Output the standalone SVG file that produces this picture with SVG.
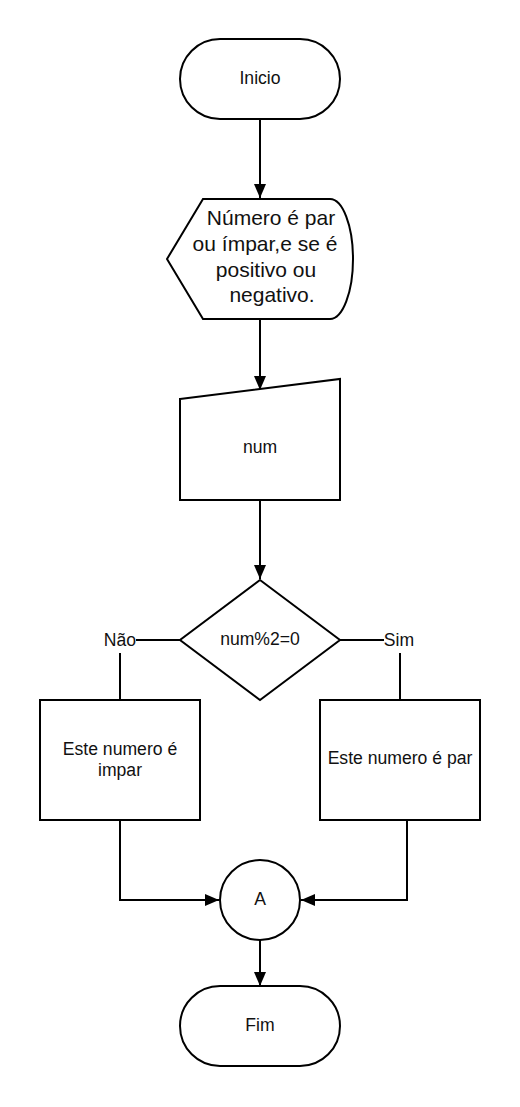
<svg xmlns="http://www.w3.org/2000/svg" width="520" height="1107" viewBox="0 0 520 1107">
<style>
.s{fill:#fff;stroke:#000;stroke-width:2}
.c{fill:none;stroke:#000;stroke-width:2}
.t{font-family:"Liberation Sans",Arial,sans-serif;font-size:17.6px;fill:#111;text-anchor:middle;dominant-baseline:central}
.b{font-family:"Liberation Sans",Arial,sans-serif;font-size:21px;fill:#111;text-anchor:middle}
</style>
<defs>
<marker id="ah" markerWidth="14" markerHeight="12" refX="14" refY="6" orient="auto" markerUnits="userSpaceOnUse">
<path d="M0,0 L14,6 L0,12 Z" fill="#000"/>
</marker>
</defs>
<rect width="520" height="1107" fill="#fff"/>
<g id="connectors">
<path class="c" d="M260,119 V198" marker-end="url(#ah)"/>
<path class="c" d="M260,319 V390" marker-end="url(#ah)"/>
<path class="c" d="M260,500 V579" marker-end="url(#ah)"/>
<path class="c" d="M180,640 H136"/>
<path class="c" d="M120,653 V700"/>
<path class="c" d="M340,640 H384"/>
<path class="c" d="M400,653 V700"/>
<path class="c" d="M120,820 V900 H219" marker-end="url(#ah)"/>
<path class="c" d="M407,820 V900 H301" marker-end="url(#ah)"/>
<path class="c" d="M260,940 V986" marker-end="url(#ah)"/>
<text class="t" x="120" y="640">Não</text>
<text class="t" x="399" y="640">Sim</text>
</g>
<g id="inicio">
<rect class="s" x="180" y="39" width="160" height="80" rx="40"/>
<text class="t" x="260" y="78">Inicio</text>
</g>
<g id="display">
<path class="s" d="M203,199 H330 A23,60 0 0 1 330,319 H203 L167,259 Z"/>
<text class="b" x="271" y="225">Número é par</text>
<text class="b" x="265" y="251">ou ímpar,e se é</text>
<text class="b" x="266" y="277">positivo ou</text>
<text class="b" x="272" y="302">negativo.</text>
</g>
<g id="input">
<path class="s" d="M180,399 L340,379 V500 H180 Z"/>
<text class="t" x="260" y="447">num</text>
</g>
<g id="decision">
<path class="s" d="M260,580 L340,640 L260,700 L180,640 Z"/>
<text class="t" x="260" y="639">num%2=0</text>
</g>
<g id="impar">
<rect class="s" x="40" y="700" width="160" height="120"/>
<text class="t" x="120" y="749">Este numero é</text>
<text class="t" x="120" y="770">impar</text>
</g>
<g id="par">
<rect class="s" x="320" y="700" width="160" height="120"/>
<text class="t" x="400" y="758">Este numero é par</text>
</g>
<g id="connectorA">
<circle class="s" cx="260" cy="900" r="40"/>
<text class="t" x="260" y="899">A</text>
</g>
<g id="fim">
<rect class="s" x="180" y="986" width="160" height="80" rx="40"/>
<text class="t" x="260" y="1025">Fim</text>
</g>
</svg>
